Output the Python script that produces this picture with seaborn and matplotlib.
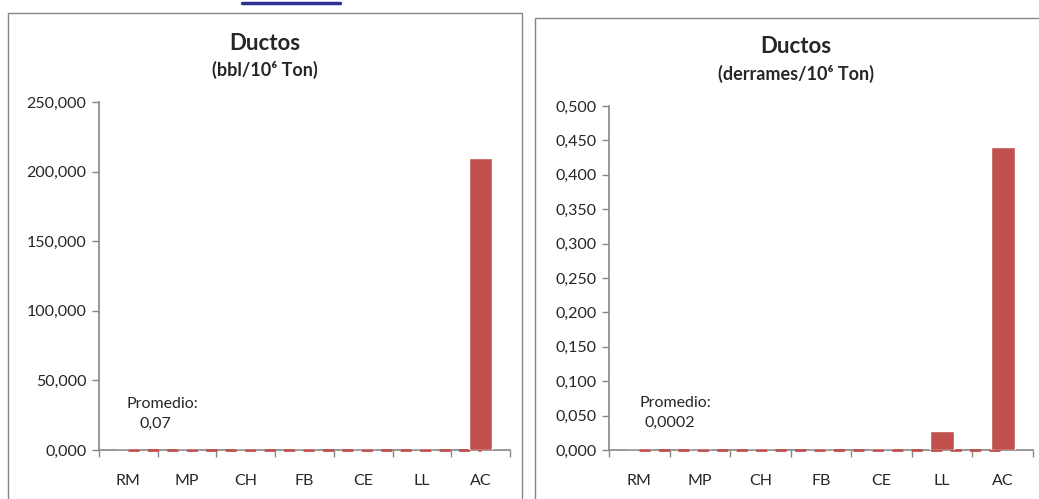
import matplotlib
matplotlib.use("Agg")
import matplotlib.pyplot as plt
import seaborn as sns
import pandas as pd
from matplotlib.patches import Rectangle
from matplotlib.lines import Line2D
from matplotlib.ticker import FuncFormatter, MultipleLocator, FixedLocator

regiones = ["RM", "MP", "CH", "FB", "CE", "LL", "AC"]
bbl_ton = [0, 0, 0, 0, 0, 0, 210]
derrames_ton = [0, 0, 0, 0, 0, 0.027, 0.44]
prom_bbl = 0.07
prom_derrames = 0.0002
etiqueta_bbl = "0,07"
etiqueta_derrames = "0,0002"

rojo = "#C0504D"
gris = "#868686"

sns.set_style("white")
plt.rcParams["font.family"] = ["Lato", "DejaVu Sans"]

fig = plt.figure(figsize=(10.39, 4.99), dpi=100)

# cajas de cada grafico
fig.add_artist(Rectangle((0.0077, -0.05), 0.4947, 1.024, transform=fig.transFigure,
                         fill=False, edgecolor=gris, linewidth=1))
fig.add_artist(Rectangle((0.515, -0.05), 0.49, 1.014, transform=fig.transFigure,
                         fill=False, edgecolor=gris, linewidth=1))
# trozo de hipervinculo cortado arriba
fig.add_artist(Line2D([0.233, 0.327], [0.994, 0.994], transform=fig.transFigure,
                      color="#2E3192", linewidth=2.5))

ax1 = fig.add_axes([0.0953, 0.0982, 0.3956, 0.6974])
ax2 = fig.add_axes([0.5861, 0.0982, 0.4081, 0.6894])


def dibujar(ax, valores, prom, ymax, paso, fmt):
    df = pd.DataFrame({"region": regiones, "valor": valores})
    x = list(range(len(regiones)))
    sns.barplot(data=df, x="region", y="valor", color=rojo, saturation=1,
                width=0.4, ax=ax)
    for p in ax.patches:
        p.set_zorder(4)
    ax.plot(x, [prom] * len(x), color=rojo, linestyle=(0, (4, 3)), linewidth=2,
            zorder=3, clip_on=False)
    ax.set_xlim(-0.5, len(regiones) - 0.5)
    ax.set_ylim(0, ymax)
    ax.yaxis.set_major_locator(MultipleLocator(paso))
    ax.yaxis.set_major_formatter(FuncFormatter(lambda v, p: fmt.format(v).replace(".", ",")))
    ax.xaxis.set_minor_locator(FixedLocator([i - 0.5 for i in range(len(regiones) + 1)]))
    ax.set_xlabel("")
    ax.set_ylabel("")
    for s in ["top", "right"]:
        ax.spines[s].set_visible(False)
    for s in ["left", "bottom"]:
        ax.spines[s].set_color(gris)
        ax.spines[s].set_linewidth(1.2)
    ax.tick_params(axis="y", which="major", direction="out", length=5, color=gris,
                   width=1, left=True, labelsize=11.5, pad=4)
    ax.tick_params(axis="x", which="major", length=0, labelsize=11.5, pad=17)
    ax.tick_params(axis="x", which="minor", direction="out", length=5, color=gris,
                   width=1, bottom=True)
    ax.grid(False)


dibujar(ax1, bbl_ton, prom_bbl, 250, 50, "{:.3f}")
dibujar(ax2, derrames_ton, prom_derrames, 0.5, 0.05, "{:.3f}")

# titulos
fig.text(0.255, 0.912, "Ductos", ha="center", va="center", fontsize=16, fontweight="bold")
fig.text(0.255, 0.859, "(bbl/10⁶ Ton)", ha="center", va="center", fontsize=13, fontweight="bold")
fig.text(0.766, 0.906, "Ductos", ha="center", va="center", fontsize=16, fontweight="bold")
fig.text(0.766, 0.852, "(derrames/10⁶ Ton)", ha="center", va="center", fontsize=13, fontweight="bold")

# anotaciones del promedio
fig.text(0.156, 0.190, "Promedio:", ha="center", va="center", fontsize=11.5)
fig.text(0.150, 0.150, etiqueta_bbl, ha="center", va="center", fontsize=11.5)
fig.text(0.650, 0.192, "Promedio:", ha="center", va="center", fontsize=11.5)
fig.text(0.645, 0.152, etiqueta_derrames, ha="center", va="center", fontsize=11.5)

plt.savefig("out.png", dpi=100)
